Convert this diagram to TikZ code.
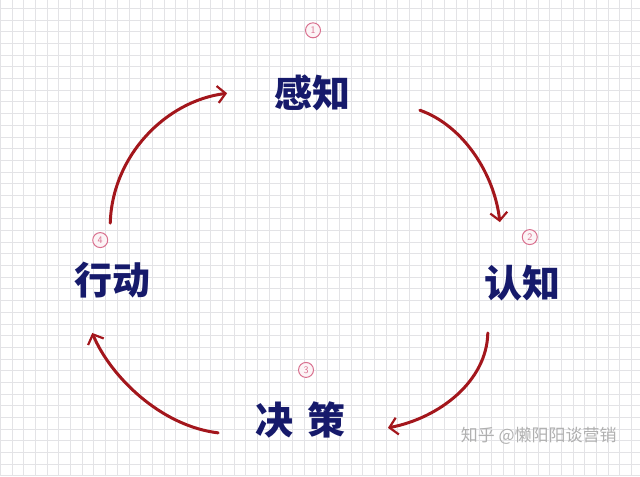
\documentclass[tikz,border=0pt]{standalone}
\usepackage{fontspec}
\newfontfamily\cjk{Noto Sans CJK SC}
\usetikzlibrary{arrows.meta}
\definecolor{ink}{HTML}{161A6B}
\definecolor{redink}{HTML}{A3161C}
\definecolor{pinkink}{HTML}{D9708F}
\definecolor{gridc}{HTML}{E3E3E6}
\definecolor{wmark}{HTML}{B0B0B0}
\begin{document}
\begin{tikzpicture}[x=1pt,y=1pt,
  word/.style={font=\cjk\bfseries\fontsize{38}{38}\selectfont, text=ink, inner sep=0pt},
  num/.style={circle, draw=pinkink, line width=1pt, fill=pinkink!8, text=pinkink, font=\sffamily\fontsize{10}{10}\selectfont, inner sep=0pt, minimum size=15pt},
  flow/.style={draw=redink, line width=3pt, line cap=round, -{Straight Barb[length=8pt,width=17pt,line width=2.2pt]}},
  wm/.style={font=\cjk\fontsize{17}{17}\selectfont, text=wmark, inner sep=0pt}]
\fill[white] (0,0) rectangle (640,476);
\draw[gridc, line width=0.7pt, step=11.7pt] (0,0) grid (640,476);
\useasboundingbox (0,0) rectangle (640,476);

\node[word] (g) at (312,383) {感知};
\node[word] (r) at (523,193) {认知};
\node[word] (j) at (300,56) {决\hspace{14pt}策};
\node[word] (x) at (112,196) {行动};

\node[num] (n1) at (313,446) {1};
\node[num] (n2) at (530,239) {2};
\node[num] (n3) at (306,106) {3};
\node[num] (n4) at (100,236) {4};

\coordinate (a1s) at (420,366);
\coordinate (a1e) at (500,254);
\coordinate (a2s) at (488,143);
\coordinate (a2e) at (388,48);
\coordinate (a3s) at (218,43);
\coordinate (a3e) at (92,143);
\coordinate (a4s) at (110,253);
\coordinate (a4e) at (227,383);

\draw[flow] (a1s) .. controls (465,350) and (495,300) .. (a1e);
\draw[flow] (a2s) .. controls (487,95) and (440,58) .. (a2e);
\draw[flow] (a3s) .. controls (160,50) and (110,100) .. (a3e);
\draw[flow] (a4s) .. controls (112,320) and (165,375) .. (a4e);

\node[wm] (w) at (539,40) {知乎 @懒阳阳谈营销};
\end{tikzpicture}
\end{document}
